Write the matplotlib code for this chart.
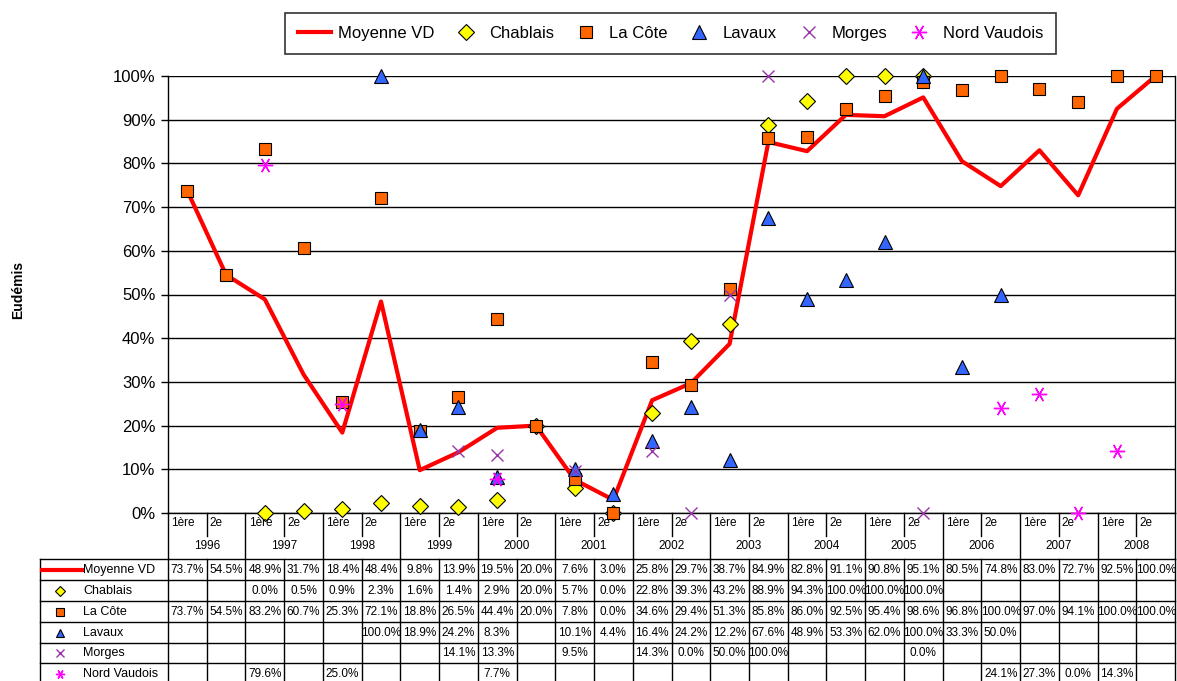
import matplotlib
matplotlib.use("Agg")
import matplotlib.pyplot as plt
import numpy as np

plt.rcParams['font.family'] = ['Liberation Sans', 'DejaVu Sans']

years = ['1996', '1997', '1998', '1999', '2000', '2001', '2002',
         '2003', '2004', '2005', '2006', '2007', '2008']
halves = ['1ère', '2e']

N = None
moyenne_vd = [73.7, 54.5, 48.9, 31.7, 18.4, 48.4, 9.8, 13.9, 19.5, 20.0, 7.6, 3.0, 25.8,
              29.7, 38.7, 84.9, 82.8, 91.1, 90.8, 95.1, 80.5, 74.8, 83.0, 72.7, 92.5, 100.0]
chablais = [N, N, 0.0, 0.5, 0.9, 2.3, 1.6, 1.4, 2.9, 20.0, 5.7, 0.0, 22.8,
            39.3, 43.2, 88.9, 94.3, 100.0, 100.0, 100.0, N, N, N, N, N, N]
la_cote = [73.7, 54.5, 83.2, 60.7, 25.3, 72.1, 18.8, 26.5, 44.4, 20.0, 7.8, 0.0, 34.6,
           29.4, 51.3, 85.8, 86.0, 92.5, 95.4, 98.6, 96.8, 100.0, 97.0, 94.1, 100.0, 100.0]
lavaux = [N, N, N, N, N, 100.0, 18.9, 24.2, 8.3, N, 10.1, 4.4, 16.4,
          24.2, 12.2, 67.6, 48.9, 53.3, 62.0, 100.0, 33.3, 50.0, N, N, N, N]
morges = [N, N, N, N, N, N, N, 14.1, 13.3, N, 9.5, N, 14.3,
          0.0, 50.0, 100.0, N, N, N, 0.0, N, N, N, N, N, N]
nord_vaudois = [N, N, 79.6, N, 25.0, N, N, N, 7.7, N, N, N, N,
                N, N, N, N, N, N, N, N, 24.1, 27.3, 0.0, 14.3, N]

series = [
    ('Moyenne VD', moyenne_vd, dict(color='#FF0000', lw=3, marker=None)),
    ('Chablais', chablais, dict(ls='none', marker='D', ms=8, mfc='#FFFF00', mec='black', mew=0.8)),
    ('La Côte', la_cote, dict(ls='none', marker='s', ms=8.5, mfc='#FF6600', mec='black', mew=0.8)),
    ('Lavaux', lavaux, dict(ls='none', marker='^', ms=10, mfc='#3366FF', mec='black', mew=0.8)),
    ('Morges', morges, dict(ls='none', marker='x', ms=9, mec='#9933AA', mew=1)),
    ('Nord Vaudois', nord_vaudois, dict(ls='none', marker=(6, 2, 90), ms=11, mec='#FF00FF', mew=1)),
]

W, H = 1177, 681
fig = plt.figure(figsize=(W / 100, H / 100), dpi=100)

# plot area in pixels
px_l, px_r, px_t, px_b = 168, 1175, 76, 513
ax = fig.add_axes([px_l / W, 1 - px_b / H, (px_r - px_l) / W, (px_b - px_t) / H])

n = len(moyenne_vd)
x = np.arange(n)

def to_arr(v):
    return np.array([np.nan if a is None else a / 100 for a in v], dtype=float)

handles = []
for name, vals, style in series:
    ln, = ax.plot(x, to_arr(vals), clip_on=False, zorder=3, **style)
    handles.append(ln)

ax.set_xlim(-0.5, n - 0.5)
ax.set_ylim(0, 1)
ax.set_yticks(np.arange(0, 1.01, 0.1))
ax.set_yticklabels([f'{int(round(v * 100))}%' for v in np.arange(0, 1.01, 0.1)], fontsize=12)
ax.tick_params(axis='y', length=5, width=1, direction='out', pad=4)
ax.set_xticks([])
ax.grid(axis='y', color='black', lw=1)
ax.set_axisbelow(True)
for s in ax.spines.values():
    s.set_color('black')
    s.set_linewidth(1)
ax.spines['top'].set_visible(False)

fig.text(18 / W, 1 - 290 / H, 'Eudémis', rotation=90, fontsize=10, fontweight='bold',
         ha='center', va='center')

# category axis + data table, in an axes with same x mapping, y in pixels
tab_l = 40
cw = (px_r - px_l) / n
tx0 = -0.5 - (px_l - tab_l) / cw
tax = fig.add_axes([tab_l / W, 0, (px_r - tab_l) / W, (H - px_b) / H])
tax.set_xlim(tx0, n - 0.5)
tax.set_ylim(H, px_b)
tax.axis('off')

lk = dict(color='black', lw=1, clip_on=False)
cat_bottom = 559
# year boundary lines and half dividers
for b in np.arange(-0.5, n, 2):
    tax.plot([b, b], [px_b, cat_bottom], **lk)
for b in np.arange(0.5, n, 2):
    tax.plot([b, b], [px_b, 536], **lk)
for i in range(n):
    tax.text(i - 0.42, 523, halves[i % 2], fontsize=8.5, ha='left', va='center')
for k, yr in enumerate(years):
    tax.text(2 * k + 0.5, 546, yr, fontsize=8.5, ha='center', va='center')

# data table
row_edges = [559, 580, 601, 622, 643, 663, 684]
for yb in row_edges:
    tax.plot([tx0, n - 0.5], [yb, yb], **lk)
tax.plot([tx0, tx0], [559, 684], **lk)
for b in np.arange(-0.5, n + 0.5, 1):
    tax.plot([b, b], [559, 684], **lk)

key_x = tx0 + 20 / cw
name_x = tx0 + 43 / cw
for r, (name, vals, style) in enumerate(series):
    yc = (row_edges[r] + row_edges[r + 1]) / 2
    if r == 0:
        tax.plot([tx0 + 2 / cw, tx0 + 42 / cw], [yc, yc], color='#FF0000', lw=3, clip_on=False)
    else:
        st = dict(style)
        st['ms'] = st['ms'] * 0.6
        tax.plot([key_x], [yc], clip_on=False, **st)
    tax.text(name_x, yc, name, fontsize=9, ha='left', va='center')
    for i, v in enumerate(vals):
        if v is not None:
            tax.text(i, yc, f'{v:.1f}%', fontsize=8.5, ha='center', va='center')

leg = fig.legend(handles, [s[0] for s in series], loc='center', ncol=6,
                 bbox_to_anchor=((279 + 1062) / 2 / W, 1 - 33.5 / H),
                 fontsize=12, frameon=True, fancybox=False, edgecolor='black',
                 handlelength=2.0, columnspacing=0.9, handletextpad=0.4,
                 borderpad=0.8, borderaxespad=0.2)
leg.get_frame().set_linewidth(1.2)

fig.savefig('out.png', dpi=100)
